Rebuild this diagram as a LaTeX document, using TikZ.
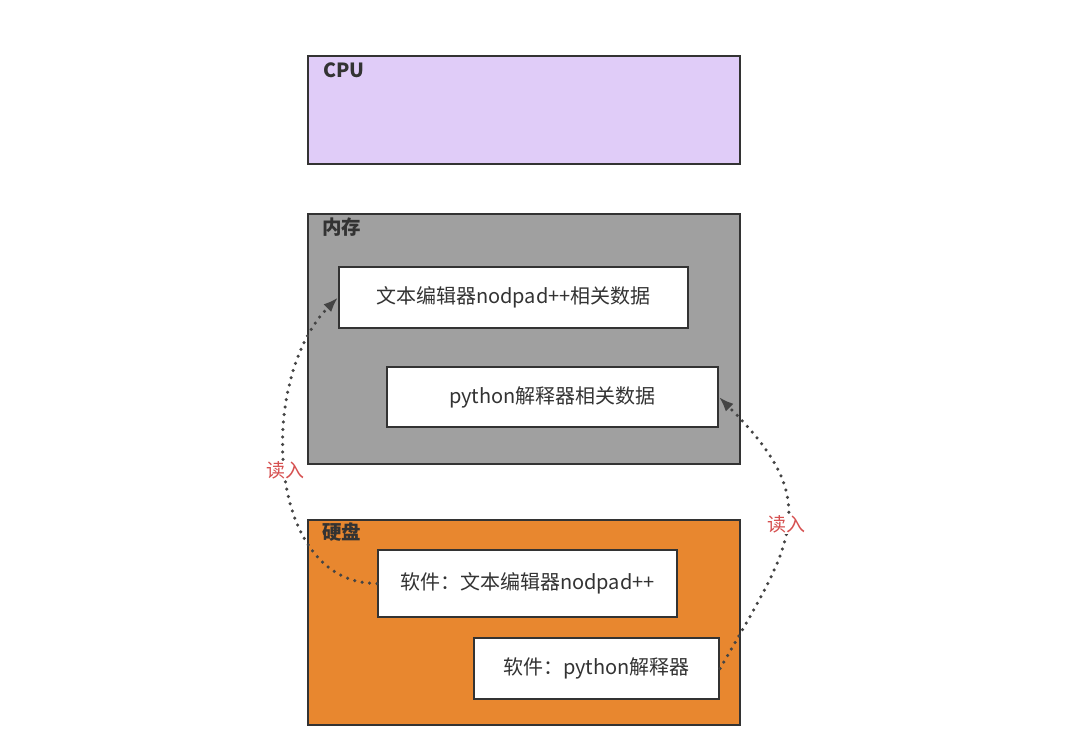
\documentclass[tikz,border=0pt]{standalone}
\usepackage{fontspec}
\setmainfont{Noto Sans CJK SC}
\usepackage{tikz}
\usetikzlibrary{arrows.meta}
\usetikzlibrary{positioning}
\definecolor{cpufill}{HTML}{E0CCF8}
\definecolor{memfill}{HTML}{A0A0A0}
\definecolor{diskfill}{HTML}{E8872F}
\definecolor{edgegray}{HTML}{333333}
\definecolor{dotgray}{HTML}{444444}
\definecolor{readred}{HTML}{D65050}
\tikzset{unit/.style = {draw=edgegray, line width=2pt, inner sep=0, anchor=north west}}
\tikzset{unitlabel/.style = {font=\fontsize{19.5}{22}\selectfont\bfseries, text=edgegray, inner sep=0, anchor=west}}
\tikzset{databox/.style = {unit, fill=white, text=edgegray, font=\fontsize{20}{23}\selectfont}}
\tikzset{readline/.style = {dotgray, line width=3.5pt, line cap=round, dash pattern=on 0pt off 7.5pt, -{Latex[length=15pt,width=11pt]}}}
\tikzset{readlabel/.style = {fill=white, text=readred, inner sep=1pt, font=\fontsize{19}{22}\selectfont}}

\begin{document}
\begin{tikzpicture}[x=1pt, y=-1pt]
        \useasboundingbox (0,0) rectangle (1071,749);
        \node[unit, fill=cpufill, minimum width=432pt, minimum height=108pt] (cpu) at (307,55) {};
        \node[unit, fill=memfill, minimum width=432pt, minimum height=250pt] (mem) at (307,213) {};
        \node[unit, fill=diskfill, minimum width=432pt, minimum height=205pt] (disk) at (307,519) {};
        \node[unitlabel] (cpulabel) at ([xshift=16pt,yshift=-15pt]cpu.north west) {CPU};
        \node[unitlabel] (memlabel) at ([xshift=15pt,yshift=-14pt]mem.north west) {内存};
        \node[unitlabel] (disklabel) at ([xshift=15pt,yshift=-13pt]disk.north west) {硬盘};
        \node[databox, minimum width=349pt, minimum height=61pt] (notepadmem) at (338,266) {文本编辑器nodpad++相关数据};
        \node[databox, minimum width=331pt, minimum height=60pt] (pythonmem) at (386,366) {python解释器相关数据};
        \node[databox, minimum width=299pt, minimum height=67pt] (notepaddisk) at (377,549) {软件：文本编辑器nodpad++};
        \node[databox, minimum width=245pt, minimum height=61pt] (pythondisk) at (473,637) {软件：python解释器};
        \draw[readline] (notepaddisk.west) to[out=180, in=225] node[readlabel] {读入} (notepadmem.west);
        \draw[readline] (pythondisk.east) to[out=60, in=-45, looseness=1.4] node[readlabel] {读入} (pythonmem.east);
    \end{tikzpicture}
\end{document}
